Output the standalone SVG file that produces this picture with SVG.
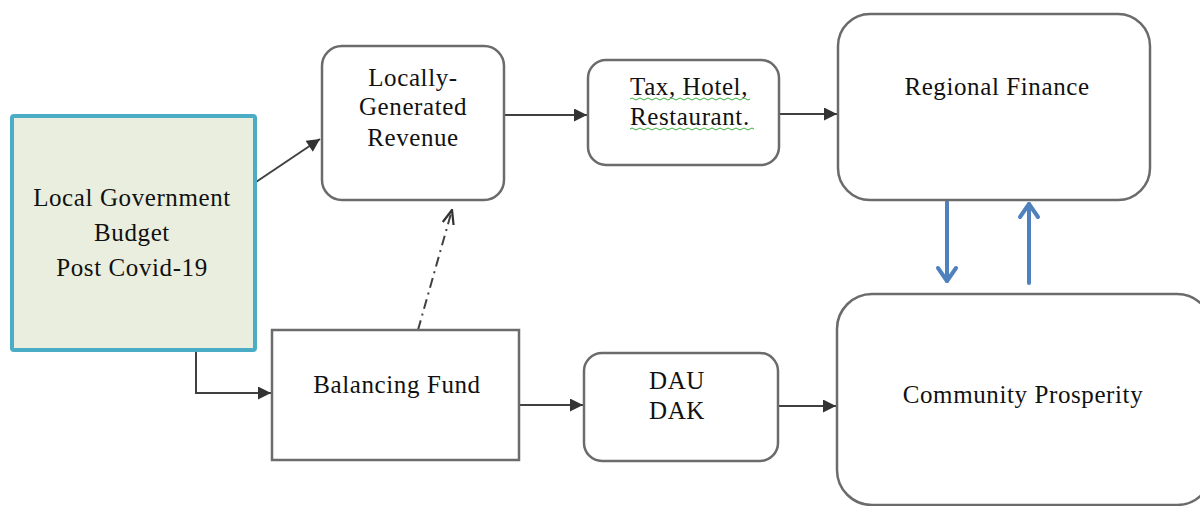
<svg xmlns="http://www.w3.org/2000/svg" width="1200" height="506" viewBox="0 0 1200 506">
<style>
.box{fill:#fff;stroke:#6b6b6b;stroke-width:2.5}
.t{font-family:"Liberation Serif","Times New Roman",serif;font-size:25px;fill:#111;letter-spacing:0.6px}
.c{text-anchor:middle}
.con{stroke:#404040;stroke-width:2;fill:none}
.blue{stroke:#4f81bd;stroke-width:4;fill:none;stroke-linecap:round;stroke-linejoin:round}
.wavy{stroke:#3cb043;stroke-width:1;fill:none}
</style>
<defs>
<marker id="ah" viewBox="0 0 10 10" refX="10" refY="5" markerWidth="14" markerHeight="13" markerUnits="userSpaceOnUse" orient="auto">
<path d="M0,0 L10,5 L0,10 z" fill="#333"/>
</marker>
<marker id="ah2" viewBox="0 0 10 10" refX="10" refY="5" markerWidth="16" markerHeight="14" markerUnits="userSpaceOnUse" orient="auto">
<path d="M0,1 L10,5 L0,9" fill="none" stroke="#333" stroke-width="1.6"/>
</marker>
</defs>

<g id="connectors">
<line class="con" x1="256" y1="182" x2="320" y2="139" marker-end="url(#ah)"/>
<polyline class="con" points="196,350 196,393 271,393" marker-end="url(#ah)"/>
<line class="con" x1="504" y1="115" x2="587" y2="115" marker-end="url(#ah)"/>
<line class="con" x1="780" y1="114" x2="837" y2="114" marker-end="url(#ah)"/>
<line class="con" x1="519" y1="405" x2="583" y2="405" marker-end="url(#ah)"/>
<line class="con" x1="778" y1="406" x2="836" y2="406" marker-end="url(#ah)"/>
<line class="con" x1="418" y1="330" x2="452" y2="210" stroke-dasharray="10,5,2,5" marker-end="url(#ah2)"/>
<g id="blue-down">
<line class="blue" x1="947" y1="202" x2="947" y2="281"/>
<polyline class="blue" points="938,268 947,281 956,268"/>
</g>
<g id="blue-up">
<line class="blue" x1="1029" y1="283" x2="1029" y2="204"/>
<polyline class="blue" points="1020,217 1029,204 1038,217"/>
</g>
</g>

<g id="node-budget">
<rect x="12" y="116" width="243" height="234" rx="2" fill="#e9eedf" stroke="#4bacc6" stroke-width="4"/>
<text class="t c" x="132" y="206">Local Government</text>
<text class="t c" x="132" y="241">Budget</text>
<text class="t c" x="132" y="276">Post Covid-19</text>
</g>

<g id="node-lgr">
<rect class="box" x="322" y="46" width="182" height="154" rx="20"/>
<text class="t c" x="413" y="86">Locally-</text>
<text class="t c" x="413" y="115">Generated</text>
<text class="t c" x="413" y="146">Revenue</text>
</g>

<g id="node-tax">
<rect class="box" x="588" y="60" width="191" height="105" rx="18"/>
<text class="t" x="630" y="95">Tax, Hotel,</text>
<text class="t" x="630" y="125">Restaurant.</text>
<path class="wavy" d="M630,99 q2,-2 4,0 t4,0 t4,0 t4,0 t4,0 t4,0 t4,0 t4,0 t4,0 t4,0 t4,0 t4,0 t4,0 t4,0 t4,0 t4,0 t4,0 t4,0 t4,0 t4,0 t4,0 t4,0 t4,0 t4,0 t4,0 t4,0 t4,0 t4,0 t4,0 t4,0"/>
<path class="wavy" d="M630,129 q2,-2 4,0 t4,0 t4,0 t4,0 t4,0 t4,0 t4,0 t4,0 t4,0 t4,0 t4,0 t4,0 t4,0 t4,0 t4,0 t4,0 t4,0 t4,0 t4,0 t4,0 t4,0 t4,0 t4,0 t4,0 t4,0 t4,0 t4,0 t4,0 t4,0 t4,0 t4,0"/>
</g>

<g id="node-regional">
<rect class="box" x="838" y="14" width="312" height="186" rx="32"/>
<text class="t c" x="997" y="95">Regional Finance</text>
</g>

<g id="node-balancing">
<rect class="box" x="272" y="330" width="247" height="130" rx="0"/>
<text class="t c" x="397" y="393">Balancing Fund</text>
</g>

<g id="node-dau">
<rect class="box" x="584" y="353" width="194" height="108" rx="18"/>
<text class="t c" x="677" y="389">DAU</text>
<text class="t c" x="677" y="419">DAK</text>
</g>

<g id="node-community">
<rect class="box" x="837" y="294" width="375" height="211" rx="35"/>
<text class="t c" x="1023" y="403">Community Prosperity</text>
</g>
</svg>
